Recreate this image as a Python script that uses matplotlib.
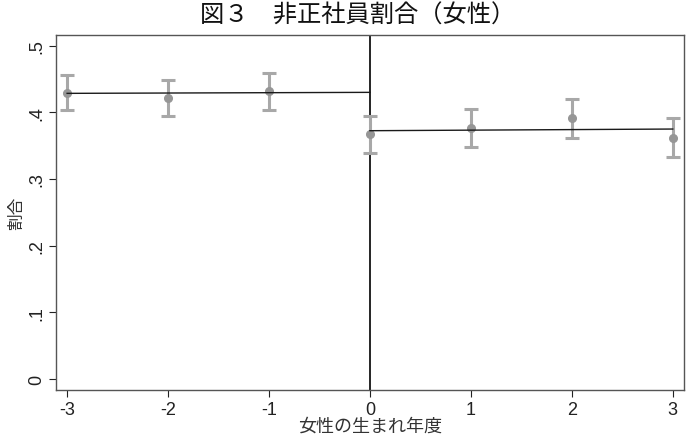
import numpy as np
import matplotlib
matplotlib.use("Agg")
import matplotlib.pyplot as plt

plt.rcParams['font.family'] = ['Noto Sans CJK JP', 'DejaVu Sans']

# cohort relative to cutoff, share of non-regular employees (women)
cohort = [-3, -2, -1, 0, 1, 2, 3]
share = [0.4295, 0.422, 0.4315, 0.367, 0.3765, 0.391, 0.362]
ci_low = [0.4035, 0.395, 0.4035, 0.3395, 0.3475, 0.3615, 0.3325]
ci_high = [0.456, 0.449, 0.4585, 0.3945, 0.405, 0.420, 0.3915]

# linear fits either side of the cutoff (endpoints)
fit_left_x = [-3, 0]
fit_left_y = [0.4285, 0.430]
fit_right_x = [0, 3]
fit_right_y = [0.3725, 0.375]

fig = plt.figure(figsize=(6.88, 4.39), dpi=100)
ax = fig.add_axes([0.0814, 0.109, 0.9126, 0.809])

share = np.array(share)
yerr = [share - np.array(ci_low), np.array(ci_high) - share]
ax.errorbar(cohort, share, yerr=yerr, fmt='none', ecolor='#a8a8a8',
            elinewidth=2.2, capsize=5, capthick=2.2, zorder=2)
ax.plot(cohort, share, 'o', color='#969696', markersize=5.5, zorder=3)

ax.plot(fit_left_x, fit_left_y, color='#1a1a1a', lw=1.0, zorder=4)
ax.plot(fit_right_x, fit_right_y, color='#1a1a1a', lw=1.0, zorder=4)
ax.axvline(0, color='black', lw=1.2, zorder=1)

ax.set_xlim(-3.11, 3.11)
ax.set_ylim(-0.0165, 0.516)
ax.set_xticks(cohort)
ax.set_xticklabels(['-3', '-2', '-1', '0', '1', '2', '3'], family='Liberation Sans')
ax.set_yticks([0, 0.1, 0.2, 0.3, 0.4, 0.5])
ax.set_yticklabels(['0', '.1', '.2', '.3', '.4', '.5'], rotation=90,
                   va='center', family='Liberation Sans')
ax.tick_params(labelsize=13, colors='#222222', length=5, pad=3)

for s in ax.spines.values():
    s.set_color('#555555')
    s.set_linewidth(1.0)

ax.set_xlabel('女性の生まれ年度', fontsize=13, color='#333333', labelpad=-1)
ax.set_ylabel('割合', fontsize=12, color='#333333', labelpad=2)
fig.text(0.52, 0.995, '図３　非正社員割合（女性）', fontsize=17.5,
         ha='center', va='top', color='#111111')

fig.savefig('out.png', dpi=100)
